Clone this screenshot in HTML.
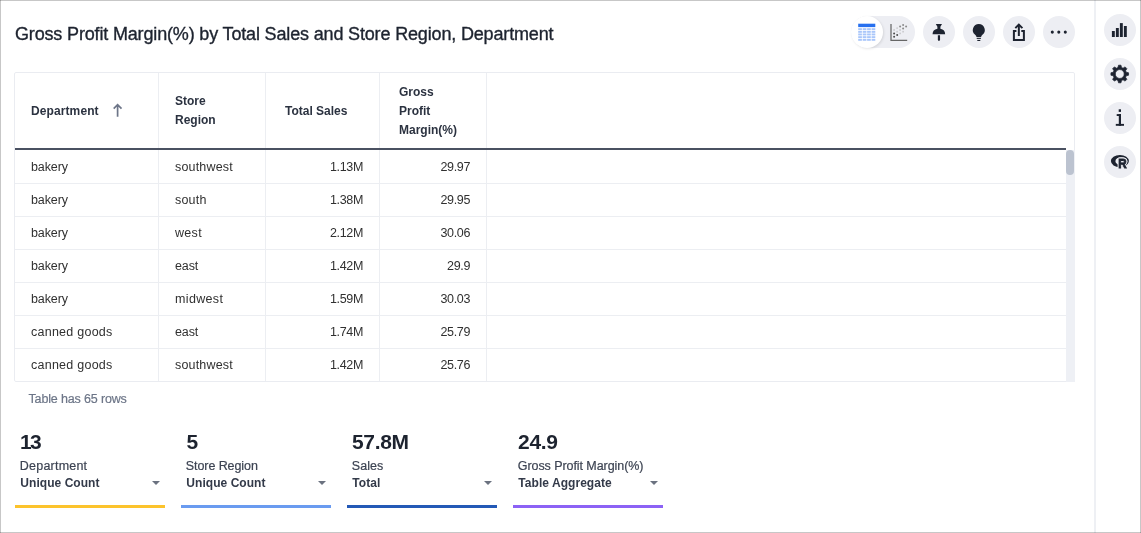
<!DOCTYPE html>
<html><head><meta charset="utf-8">
<style>
*{box-sizing:border-box;margin:0;padding:0}
html,body{width:1141px;height:533px;overflow:hidden;background:#fff}
body{font-family:"Liberation Sans",sans-serif;color:#1d232f;position:relative}
.fr{position:absolute;background:rgba(0,0,0,.22);z-index:10}
.title{position:absolute;left:15px;top:22px;font-size:18px;line-height:24px;color:#1d232f;white-space:nowrap;letter-spacing:-0.16px;-webkit-text-stroke:0.35px #1d232f}
.side{position:absolute;left:1094px;top:0;width:2px;height:533px;background:#eef0f4}
.circ{position:absolute;width:32px;height:32px;border-radius:50%;background:#edeef3}
.pill{position:absolute;left:851px;top:16px;width:64px;height:32px;border-radius:16px;background:#edeef3}
.knob{position:absolute;left:851px;top:16px;width:32px;height:32px;border-radius:50%;background:#fff;box-shadow:1px 1px 2.5px rgba(0,0,0,.10)}
.ico{position:absolute}
.tbl{position:absolute;left:14px;top:72px;width:1061px;height:310px;border:1px solid #eaecf1;border-radius:2px;overflow:hidden}
.vl{position:absolute;top:0;width:1px;height:310px;background:#eceef2}
.hl{position:absolute;left:0;width:1051px;height:1px;background:#eceef2}
.hb{position:absolute;left:0;top:75px;width:1051px;height:2px;background:#4a5161}
.th{position:absolute;font-size:12px;font-weight:bold;line-height:19px;color:#2b3240}
.td{position:absolute;font-size:12.5px;line-height:33px;height:33px;color:#303030;white-space:nowrap;letter-spacing:-0.1px}
.r{text-align:right;letter-spacing:-0.35px}
.sb{position:absolute;left:1066px;top:150px;width:9px;height:232px;background:#eef0f5}
.thumb{position:absolute;left:1066px;top:149.6px;width:7.8px;height:25.3px;border-radius:4px;background:#bcc3d0}
.foot{position:absolute;left:28.5px;top:391px;font-size:12.5px;line-height:16px;color:#6c7587;letter-spacing:-0.15px;-webkit-text-stroke:0.2px #6c7587}
.card{position:absolute;top:428px;width:150px;height:80px}
.card .n{position:absolute;left:5px;top:2px;font-size:21px;font-weight:bold;line-height:24px;color:#1d232f;letter-spacing:-0.3px}
.card .l{position:absolute;left:4.8px;-webkit-text-stroke:0.2px #3c4352;top:30px;font-size:12.5px;letter-spacing:0.03px;line-height:16px;color:#3c4352}
.card .a{position:absolute;left:5.3px;letter-spacing:0.05px;top:47px;font-size:12px;font-weight:bold;line-height:16px;color:#333a49}
.card .c{position:absolute;left:137px;top:53px;width:0;height:0;border-left:4px solid transparent;border-right:4px solid transparent;border-top:4px solid #6b7280}
.card .b{position:absolute;left:0;top:77px;width:150px;height:3px}
</style></head><body><div id="wrap" style="position:absolute;left:0;top:0;width:1141px;height:533px;will-change:transform">
<div class="title">Gross Profit Margin(%) by Total Sales and Store Region, Department</div>

<div class="pill"></div><div class="knob"></div>
<div class="circ" style="left:922.8px;top:16px"></div>
<div class="circ" style="left:962.8px;top:16px"></div>
<div class="circ" style="left:1002.8px;top:16px"></div>
<div class="circ" style="left:1042.8px;top:16px"></div>

<div class="side"></div>
<div class="circ" style="left:1103.85px;top:14px"></div>
<div class="circ" style="left:1103.85px;top:58px"></div>
<div class="circ" style="left:1103.85px;top:102px"></div>
<div class="circ" style="left:1103.85px;top:145.8px"></div>

<div class="tbl">
 <div class="vl" style="left:143px"></div><div class="vl" style="left:250px"></div><div class="vl" style="left:364px"></div><div class="vl" style="left:471px"></div>
 <div class="th" style="left:16px;top:29px;letter-spacing:0.1px">Department</div>
 <div class="th" style="left:160px;top:19px">Store<br>Region</div>
 <div class="th" style="left:270px;top:29px">Total Sales</div>
 <div class="th" style="left:384px;top:10px">Gross<br>Profit<br>Margin(%)</div>
 <div class="hb"></div>
 <div class="hl" style="top:110px"></div><div class="hl" style="top:143px"></div><div class="hl" style="top:176px"></div><div class="hl" style="top:209px"></div><div class="hl" style="top:242px"></div><div class="hl" style="top:275px"></div><div class="hl" style="top:308px"></div>
 <div class="td" style="left:16px;top:78px">bakery</div><div class="td" style="left:160px;top:78px;letter-spacing:0.17px">southwest</div><div class="td r" style="left:251px;width:97px;top:78px">1.13M</div><div class="td r" style="left:365px;width:90px;top:78px">29.97</div>
 <div class="td" style="left:16px;top:111px">bakery</div><div class="td" style="left:160px;top:111px;letter-spacing:0.2px">south</div><div class="td r" style="left:251px;width:97px;top:111px">1.38M</div><div class="td r" style="left:365px;width:90px;top:111px">29.95</div>
 <div class="td" style="left:16px;top:144px">bakery</div><div class="td" style="left:160px;top:144px;letter-spacing:0.3px">west</div><div class="td r" style="left:251px;width:97px;top:144px">2.12M</div><div class="td r" style="left:365px;width:90px;top:144px">30.06</div>
 <div class="td" style="left:16px;top:177px">bakery</div><div class="td" style="left:160px;top:177px">east</div><div class="td r" style="left:251px;width:97px;top:177px">1.42M</div><div class="td r" style="left:365px;width:90px;top:177px">29.9</div>
 <div class="td" style="left:16px;top:210px">bakery</div><div class="td" style="left:160px;top:210px;letter-spacing:0.35px">midwest</div><div class="td r" style="left:251px;width:97px;top:210px">1.59M</div><div class="td r" style="left:365px;width:90px;top:210px">30.03</div>
 <div class="td" style="left:16px;top:243px;letter-spacing:0.25px">canned goods</div><div class="td" style="left:160px;top:243px">east</div><div class="td r" style="left:251px;width:97px;top:243px">1.74M</div><div class="td r" style="left:365px;width:90px;top:243px">25.79</div>
 <div class="td" style="left:16px;top:276px;letter-spacing:0.25px">canned goods</div><div class="td" style="left:160px;top:276px;letter-spacing:0.17px">southwest</div><div class="td r" style="left:251px;width:97px;top:276px">1.42M</div><div class="td r" style="left:365px;width:90px;top:276px">25.76</div>
</div>
<div class="sb"></div><div class="thumb"></div>

<div class="foot">Table has 65 rows</div>

<div class="card" style="left:15px"><div class="n" style="letter-spacing:-1.7px">13</div><div class="l" style="letter-spacing:0.22px">Department</div><div class="a">Unique Count</div><div class="c"></div><div class="b" style="background:#fcc32c"></div></div>
<div class="card" style="left:181px"><div class="n" style="left:5.5px">5</div><div class="l" style="letter-spacing:-0.08px">Store Region</div><div class="a">Unique Count</div><div class="c"></div><div class="b" style="background:#6a9bf0"></div></div>
<div class="card" style="left:347px"><div class="n" style="letter-spacing:-0.35px">57.8M</div><div class="l">Sales</div><div class="a">Total</div><div class="c"></div><div class="b" style="background:#2359b6"></div></div>
<div class="card" style="left:513px"><div class="n" style="letter-spacing:-0.3px">24.9</div><div class="l" style="letter-spacing:-0.07px">Gross Profit Margin(%)</div><div class="a">Table Aggregate</div><div class="c"></div><div class="b" style="background:#8c62f5"></div></div>


<svg class="ico" style="left:0;top:0" width="1141" height="533" viewBox="0 0 1141 533">
 <!-- table icon -->
 <rect x="858.2" y="23.7" width="17.1" height="3.4" fill="#2770ef"/>
 <g fill="#a9c6fa"><rect x="858.2" y="28.2" width="3.7" height="1.9"/><rect x="862.7" y="28.2" width="3.7" height="1.9"/><rect x="867.1" y="28.2" width="3.7" height="1.9"/><rect x="871.6" y="28.2" width="3.7" height="1.9"/><rect x="858.2" y="30.9" width="3.7" height="1.9"/><rect x="862.7" y="30.9" width="3.7" height="1.9"/><rect x="867.1" y="30.9" width="3.7" height="1.9"/><rect x="871.6" y="30.9" width="3.7" height="1.9"/><rect x="858.2" y="33.5" width="3.7" height="1.9"/><rect x="862.7" y="33.5" width="3.7" height="1.9"/><rect x="867.1" y="33.5" width="3.7" height="1.9"/><rect x="871.6" y="33.5" width="3.7" height="1.9"/><rect x="858.2" y="36.2" width="3.7" height="1.9"/><rect x="862.7" y="36.2" width="3.7" height="1.9"/><rect x="867.1" y="36.2" width="3.7" height="1.9"/><rect x="871.6" y="36.2" width="3.7" height="1.9"/><rect x="858.2" y="38.9" width="3.7" height="1.9"/><rect x="862.7" y="38.9" width="3.7" height="1.9"/><rect x="867.1" y="38.9" width="3.7" height="1.9"/><rect x="871.6" y="38.9" width="3.7" height="1.9"/></g>
 <!-- scatter icon -->
 <path d="M891 24 V40.3 H907.2" fill="none" stroke="#666" stroke-width="1.25"/>
 <g fill="#4d4d4d"><circle cx="894.1" cy="36.8" r="1"/><circle cx="894.1" cy="33.5" r="1"/><circle cx="897.2" cy="35.1" r="1"/></g>
 <g fill="#8a8a8a"><circle cx="900.1" cy="26.6" r="1"/><circle cx="903.1" cy="24.9" r="1"/><circle cx="903.1" cy="28.4" r="1"/><circle cx="906.1" cy="26.6" r="1"/></g>
 <g fill="#c9c9cc"><circle cx="894.1" cy="30" r="0.9"/><circle cx="897.1" cy="28.1" r="0.9"/><circle cx="897.1" cy="31.7" r="0.9"/><circle cx="900.1" cy="30" r="0.9"/><circle cx="900.1" cy="33.4" r="0.9"/><circle cx="903.1" cy="31.7" r="0.9"/></g>
 <!-- pin -->
 <g fill="#1d2330">
  <path d="M935.8 24 H942 L940.4 26.8 V28.85 A6.3 5.5 0 0 1 945.15 34.2 H932.55 A6.3 5.5 0 0 1 937.4 28.85 V26.8 Z"/>
  <path d="M937.85 35.3 H940.05 V39.6 Q940.05 40.9 938.95 40.9 Q937.85 40.9 937.85 39.6 Z"/>
 </g>
 <!-- bulb -->
 <g fill="#1d2330">
  <path d="M978.8 24 a6 6 0 0 1 3.9 10.55 q-1.5 1.3 -1.6 2.35 h-4.6 q-0.1 -1.05 -1.6 -2.35 a6 6 0 0 1 3.9 -10.55Z"/>
  <rect x="976.7" y="37.8" width="4.2" height="1.1"/>
  <rect x="977.3" y="39.9" width="3" height="1.1"/>
 </g>
 <!-- share -->
 <g fill="none" stroke="#1d2330" stroke-width="2">
  <path d="M1016.4 31 H1013.9 V39.9 H1023.9 V31 H1021.3"/>
  <path d="M1018.85 36 V25.2"/>
  <path d="M1015.3 28.1 L1018.85 24.6 L1022.4 28.1" stroke-linejoin="miter"/>
 </g>
 <!-- dots -->
 <g fill="#1d2330"><circle cx="1052.3" cy="32.1" r="1.55"/><circle cx="1058.8" cy="32.1" r="1.55"/><circle cx="1065.3" cy="32.1" r="1.55"/></g>
 <!-- bars -->
 <g fill="#1d2330"><rect x="1111.9" y="31" width="2.9" height="6"/><rect x="1115.9" y="28" width="2.9" height="9"/><rect x="1119.9" y="23.1" width="2.9" height="13.9"/><rect x="1123.9" y="26" width="2.9" height="11"/></g>
 <!-- gear -->
 <path d="M1117.96 67.54 L1118.51 65.19 L1120.99 65.19 L1121.54 67.54 L1123.05 68.17 L1125.10 66.89 L1126.86 68.65 L1125.58 70.70 L1126.21 72.21 L1128.56 72.76 L1128.56 75.24 L1126.21 75.79 L1125.58 77.30 L1126.86 79.35 L1125.10 81.11 L1123.05 79.83 L1121.54 80.46 L1120.99 82.81 L1118.51 82.81 L1117.96 80.46 L1116.45 79.83 L1114.40 81.11 L1112.64 79.35 L1113.92 77.30 L1113.29 75.79 L1110.94 75.24 L1110.94 72.76 L1113.29 72.21 L1113.92 70.70 L1112.64 68.65 L1114.40 66.89 L1116.45 68.17Z M1115.30 74.00 a4.45 4.45 0 1 0 8.9 0 a4.45 4.45 0 1 0 -8.9 0Z" fill="#1d2330" fill-rule="evenodd" stroke="#1d2330" stroke-width="0.7" stroke-linejoin="round"/>
 <!-- info -->
 <g fill="#1d2330"><rect x="1118.7" y="109.3" width="2.3" height="2.6"/><rect x="1116.7" y="114.1" width="4.3" height="1.9"/><rect x="1118.8" y="114.1" width="2.2" height="11.7"/><rect x="1115.8" y="123.9" width="8.2" height="1.9"/></g>
 <!-- R logo -->
 <path d="M1110.9 161.1 a9 6.2 0 1 0 18 0 a9 6.2 0 1 0 -18 0Z M1115.4 161.2 a6 4 0 1 1 12 0 a6 4 0 1 1 -12 0Z" fill="#1d2330" fill-rule="evenodd"/>
 <g transform="translate(1118.2 168.3) scale(0.9 1)" font-family="Liberation Sans, sans-serif" font-weight="bold" font-size="12.9"><text fill="#edeef3" stroke="#edeef3" stroke-width="3" stroke-linejoin="round">R</text><text fill="#1d2330" stroke="#1d2330" stroke-width="0.9">R</text></g>
 <!-- sort arrow -->
 <path d="M117.6 116.7 V104.8 M113.7 108.6 L117.6 104.6 L121.5 108.6" fill="none" stroke="#6d7588" stroke-width="1.7"/>
</svg>
<div class="fr" style="left:0;top:0;width:1141px;height:1px"></div><div class="fr" style="left:0;top:532px;width:1141px;height:1px"></div><div class="fr" style="left:0;top:0;width:1px;height:533px"></div><div class="fr" style="left:1140px;top:0;width:1px;height:533px"></div>
</div></body></html>
